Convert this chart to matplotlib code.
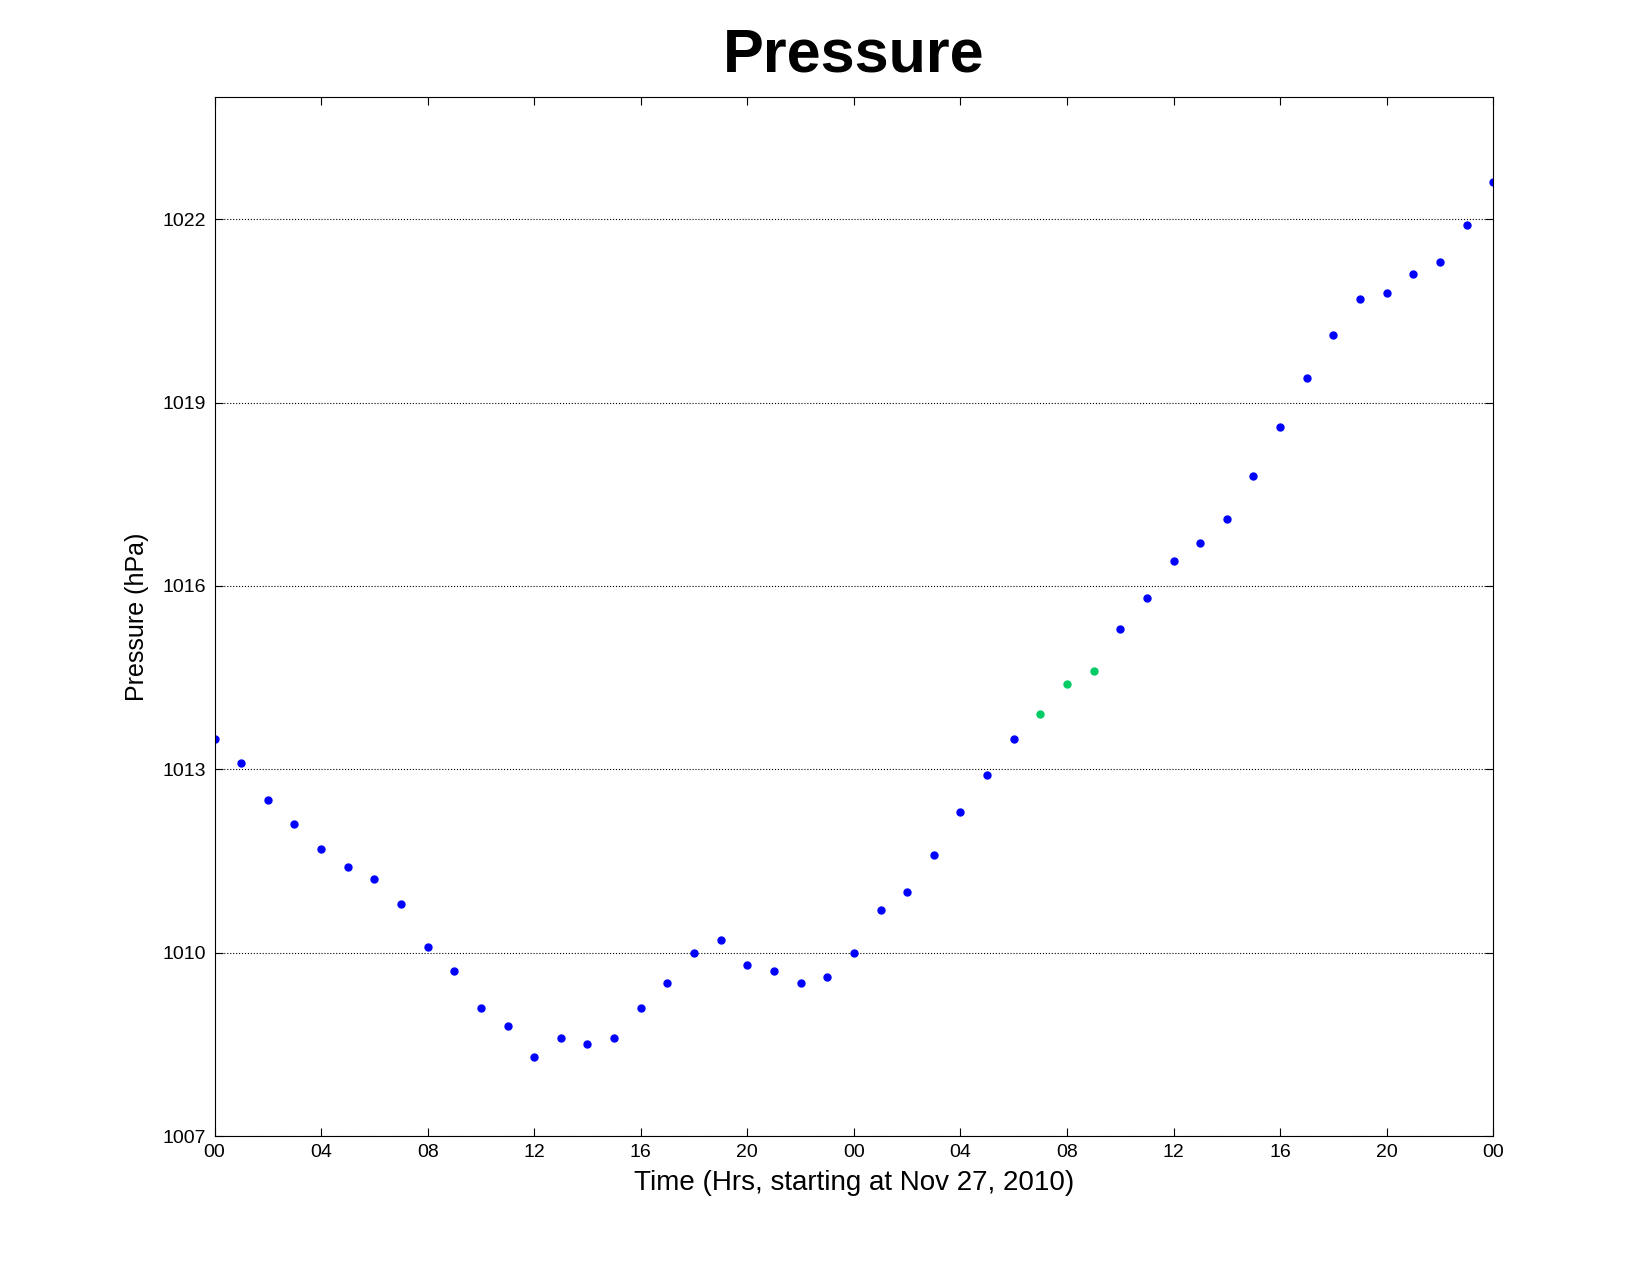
import matplotlib
matplotlib.use("Agg")
import matplotlib.pyplot as plt

plt.rcParams['font.family'] = ['Liberation Sans', 'DejaVu Sans']

# hourly pressure readings, hour 0 = Nov 27 2010 00:00
hours = list(range(49))
pressure = [1013.5, 1013.1, 1012.5, 1012.1, 1011.7, 1011.4, 1011.2, 1010.8,
            1010.1, 1009.7, 1009.1, 1008.8, 1008.3, 1008.6, 1008.5, 1008.6,
            1009.1, 1009.5, 1010.0, 1010.2, 1009.8, 1009.7, 1009.5, 1009.6,
            1010.0, 1010.7, 1011.0, 1011.6, 1012.3, 1012.9, 1013.5, 1013.9,
            1014.4, 1014.6, 1015.3, 1015.8, 1016.4, 1016.7, 1017.1, 1017.8,
            1018.6, 1019.4, 1020.1, 1020.7, 1020.8, 1021.1, 1021.3, 1021.9,
            1022.6]
# readings drawn in green
green_hours = [31, 32, 33]
blue_hours = [h for h in hours if h not in green_hours]

xtick_pos = list(range(0, 49, 4))
xtick_labels = ["00", "04", "08", "12", "16", "20", "00", "04", "08", "12", "16", "20", "00"]
ytick_pos = [1007, 1010, 1013, 1016, 1019, 1022]

fig = plt.figure(figsize=(16.5, 12.75), dpi=100)
ax = fig.add_axes([0.13, 0.109, 0.775, 0.815])

ax.plot(blue_hours, [pressure[h] for h in blue_hours], 'o', color='#0000ff', markersize=5)
ax.plot(green_hours, [pressure[h] for h in green_hours], 'o', color='#00cc66', markersize=5)

ax.set_xlim(0, 48)
ax.set_ylim(1007, 1024)
ax.set_xticks(xtick_pos)
ax.set_xticklabels(xtick_labels)
ax.set_yticks(ytick_pos)
ax.tick_params(direction='in', top=True, right=True, labelsize=14, length=6, pad=6)
ax.yaxis.grid(True, linestyle=':', color='black', linewidth=0.8)
for s in ax.spines.values():
    s.set_linewidth(0.8)

ax.set_xlabel("Time (Hrs, starting at Nov 27, 2010)", fontsize=20, labelpad=6)
ax.set_ylabel("Pressure (hPa)", fontsize=18, labelpad=10)
ax.set_title("Pressure", fontsize=44, fontweight='bold', pad=18)

fig.savefig("out.png", dpi=100)
